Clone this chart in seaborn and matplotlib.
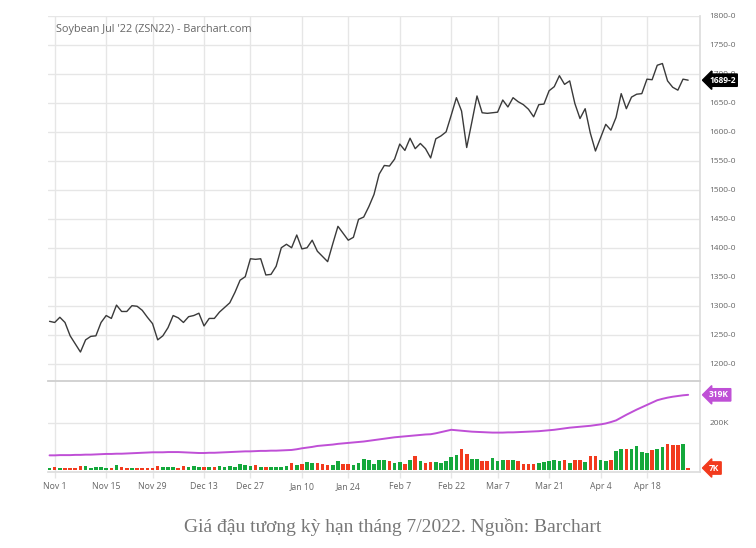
import pandas as pd
import numpy as np
import matplotlib
matplotlib.use("Agg")
import matplotlib.pyplot as plt
import matplotlib.transforms as mtransforms
import seaborn as sns

# Soybean Jul '22 daily closes (cents/bu)
prices = [1273, 1271, 1280, 1271, 1248, 1234, 1220, 1241, 1247, 1248,
          1271, 1283, 1278, 1301, 1290, 1290, 1300, 1299, 1292, 1280,
          1269, 1241, 1248, 1262, 1283, 1279, 1271, 1281, 1283, 1287,
          1265, 1278, 1278, 1289, 1297, 1305, 1323, 1344, 1350, 1381,
          1380, 1381, 1353, 1354, 1368, 1400, 1406, 1400, 1422, 1398,
          1400, 1413, 1394, 1385, 1376, 1407, 1437, 1425, 1413, 1418,
          1449, 1453, 1471, 1492, 1527, 1542, 1541, 1553, 1579, 1568,
          1589, 1571, 1580, 1571, 1555, 1588, 1593, 1600, 1629, 1659,
          1636, 1573, 1617, 1662, 1633, 1632, 1633, 1634, 1655, 1643,
          1659, 1652, 1647, 1639, 1626, 1647, 1648, 1671, 1678, 1697,
          1682, 1688, 1649, 1623, 1640, 1598, 1567, 1590, 1613, 1603,
          1625, 1666, 1640, 1660, 1665, 1666, 1691, 1690, 1715, 1718,
          1688, 1677, 1672, 1691, 1689.25]

# daily volume (thousands)
volume_k = [9, 10, 9, 7, 7, 9, 14, 17, 9, 10,
            13, 9, 7, 20, 10, 7, 9, 9, 7, 9,
            9, 16, 13, 12, 11, 7, 16, 12, 16, 13,
            12, 13, 13, 16, 13, 16, 12, 24, 20, 17,
            18, 13, 13, 13, 12, 12, 16, 27, 21, 24,
            31, 30, 27, 26, 21, 21, 37, 24, 24, 18,
            30, 47, 43, 24, 43, 43, 36, 30, 33, 26,
            43, 58, 38, 28, 34, 34, 30, 37, 54, 61,
            87, 65, 44, 46, 38, 38, 50, 38, 43, 41,
            41, 36, 26, 26, 26, 28, 33, 37, 40, 36,
            43, 27, 40, 41, 34, 58, 58, 41, 37, 43,
            78, 87, 87, 88, 101, 75, 72, 82, 89, 97,
            108, 103, 103, 108, 7]

# open interest (thousands)
open_interest_k = [61, 61, 62, 62, 62, 63, 63, 64, 64, 65,
                   66, 67, 67, 68, 68, 69, 70, 71, 72, 73,
                   74, 74, 74, 75, 75, 75, 74, 73, 72, 71,
                   71, 72, 72, 73, 74, 75, 76, 77, 78, 78,
                   79, 80, 80, 81, 81, 82, 83, 84, 87, 91,
                   94, 97, 101, 103, 105, 107, 110, 112, 114, 116,
                   118, 120, 123, 126, 129, 132, 135, 138, 140, 142,
                   144, 146, 148, 150, 151, 155, 160, 165, 170, 168,
                   166, 164, 162, 161, 160, 159, 158, 158, 158, 159,
                   159, 160, 161, 162, 163, 164, 166, 168, 170, 173,
                   176, 179, 181, 183, 185, 187, 190, 193, 197, 203,
                   210, 222, 234, 245, 256, 266, 276, 286, 296, 302,
                   307, 311, 314, 317, 319]

holidays = ["2021-11-25", "2021-12-24", "2022-01-17", "2022-02-21", "2022-04-15"]
tick_dates = ["2021-11-01", "2021-11-15", "2021-11-29", "2021-12-13", "2021-12-27",
              "2022-01-10", "2022-01-24", "2022-02-07", "2022-02-22", "2022-03-07",
              "2022-03-21", "2022-04-04", "2022-04-18"]
tick_labels = ["Nov 1", "Nov 15", "Nov 29", "Dec 13", "Dec 27", "Jan 10", "Jan 24",
               "Feb 7", "Feb 22", "Mar 7", "Mar 21", "Apr 4", "Apr 18"]
price_ticks = list(range(1200, 1801, 50))
title = "Soybean Jul '22 (ZSN22) - Barchart.com"
caption = "Giá đậu tương kỳ hạn tháng 7/2022. Nguồn: Barchart"

green = "#14a83b"
red = "#f23a1d"
purple = "#bf4fd6"
grid_c = "#e6e6e6"
text_c = "#666666"

dates = pd.bdate_range("2021-10-29", periods=len(prices), freq="C", holidays=holidays)
df = pd.DataFrame({"day": np.arange(len(prices)), "date": dates, "price": prices,
                   "volume": volume_k, "oi": open_interest_k})
df["dir"] = np.where(df["price"].diff().fillna(1) > 0, "up", "down")
tick_pos = [int(np.searchsorted(dates, pd.Timestamp(d))) for d in tick_dates]

sns.set_theme(style="white")
plt.rcParams["font.family"] = ["Open Sans", "DejaVu Sans"]

W, H = 756, 548
fig = plt.figure(figsize=(W / 100, H / 100), dpi=100)
ax = fig.add_axes([48 / W, 1 - 381 / H, 652 / W, 365 / H])
axv = fig.add_axes([48 / W, 1 - 472 / H, 652 / W, 91 / H])

# price panel
sns.lineplot(data=df, x="day", y="price", ax=ax, color="#3a3a3a", linewidth=1.0)
ax.set_ylim(1170, 1800)
ax.set_xlim(-0.3, 126.3)
ax.set_yticks(price_ticks)
ax.set_yticklabels([f"{v}-0" for v in price_ticks])
ax.yaxis.tick_right()
ax.set_xticks(tick_pos)
ax.set_xticklabels([])
ax.tick_params(axis="y", length=0, pad=7, labelsize=6, labelcolor=text_c)
ax.tick_params(axis="x", length=0)
ax.grid(True, color=grid_c, linewidth=1)
ax.set_xlabel("")
ax.set_ylabel("")
for s in ["left", "top", "bottom"]:
    ax.spines[s].set_visible(False)
ax.spines["right"].set_color("#dddddd")
ax.text(8 / 652, 0.962, title, transform=ax.transAxes, ha="left", va="center",
        fontsize=7.8, color=text_c)

last = prices[-1]
last_lbl = f"{int(last)}-{int(round((last % 1) * 8))}"
tr = mtransforms.blended_transform_factory(ax.transAxes, ax.transData)
ax.text(1.014, last, last_lbl, transform=tr, ha="left", va="center", fontsize=6,
        color="white", fontweight="bold", clip_on=False, zorder=10,
        bbox=dict(boxstyle="larrow,pad=0.2", fc="black", ec="black"))

# volume / open interest panel
sns.barplot(data=df, x="day", y="volume", hue="dir", palette={"up": green, "down": red},
            native_scale=True, dodge=False, width=0.7, errorbar=None, legend=False,
            saturation=1, linewidth=0, ax=axv)
sns.lineplot(data=df, x="day", y="oi", ax=axv, color=purple, linewidth=1.4)
axv.set_ylim(-10, 378)
axv.set_xlim(-0.3, 126.3)
axv.set_yticks([200])
axv.set_yticklabels(["200K"])
axv.yaxis.tick_right()
axv.set_xticks(tick_pos)
axv.set_xticklabels(tick_labels)
axv.tick_params(axis="y", length=0, pad=7, labelsize=6, labelcolor=text_c)
axv.tick_params(axis="x", length=4, color=grid_c, width=1, pad=3, labelsize=6.3,
                labelcolor=text_c, bottom=True)
axv.grid(True, color=grid_c, linewidth=1)
axv.set_xlabel("")
axv.set_ylabel("")
axv.spines["left"].set_visible(False)
axv.spines["top"].set_color("#cfcfcf")
axv.spines["top"].set_linewidth(1.3)
axv.spines["bottom"].set_color("#dddddd")
axv.spines["right"].set_color("#dddddd")

trv = mtransforms.blended_transform_factory(axv.transAxes, axv.transData)
axv.text(1.014, open_interest_k[-1], f"{open_interest_k[-1]}K", transform=trv, ha="left",
         va="center", fontsize=6, color="white", fontweight="bold", clip_on=False,
         bbox=dict(boxstyle="larrow,pad=0.2", fc=purple, ec=purple))
axv.text(1.014, volume_k[-1], f"{volume_k[-1]}K", transform=trv, ha="left",
         va="center", fontsize=6, color="white", fontweight="bold", clip_on=False,
         bbox=dict(boxstyle="larrow,pad=0.2", fc=red, ec=red))

fig.text(393 / W, 1 - 527 / H, caption, ha="center", va="center", fontsize=14,
         family=["Liberation Serif", "DejaVu Serif"], color="#777777")

fig.savefig("out.png", dpi=100)
